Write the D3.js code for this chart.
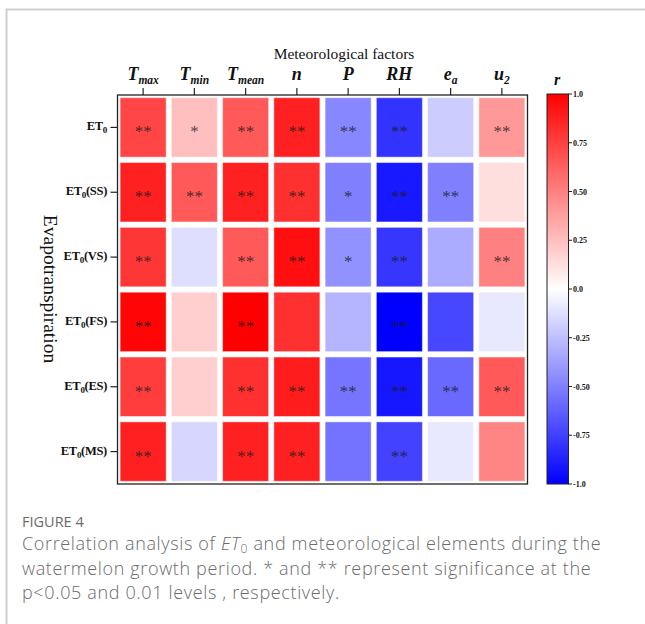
<!DOCTYPE html>
<html>
<head>
<meta charset="utf-8">
<script src="https://cdn.jsdelivr.net/npm/d3@7"></script>
<style>
  body { margin: 0; background: #fff; }
  svg { display: block; }
</style>
</head>
<body>
<div id="chart"></div>
<script>
// factors on the x axis, ET0 periods on the y axis
var factors = ["Tmax", "Tmin", "Tmean", "n", "P", "RH", "ea", "u2"];
var factorMain = ["T", "T", "T", "n", "P", "RH", "e", "u"];
var factorSub = ["max", "min", "mean", "", "", "", "a", "2"];
var periods = ["", "(SS)", "(VS)", "(FS)", "(ES)", "(MS)"];

// correlation r, one array per row
var rET0 = [0.73, 0.25, 0.65, 0.87, -0.47, -0.80, -0.20, 0.40];
var rSS  = [0.87, 0.65, 0.87, 0.81, -0.50, -0.90, -0.50, 0.13];
var rVS  = [0.79, -0.13, 0.65, 0.94, -0.43, -0.79, -0.33, 0.50];
var rFS  = [0.98, 0.19, 1.00, 0.81, -0.29, -1.00, -0.72, -0.09];
var rES  = [0.76, 0.19, 0.81, 0.89, -0.54, -0.91, -0.59, 0.65];
var rMS  = [0.87, -0.16, 0.87, 0.87, -0.55, -0.74, -0.09, 0.48];

// significance marks
var sigET0 = ["**", "*", "**", "**", "**", "**", "", "**"];
var sigSS  = ["**", "**", "**", "**", "*", "**", "**", ""];
var sigVS  = ["**", "", "**", "**", "*", "**", "", "**"];
var sigFS  = ["**", "", "**", "", "", "**", "", ""];
var sigES  = ["**", "", "**", "**", "**", "**", "**", "**"];
var sigMS  = ["**", "", "**", "**", "", "**", "", ""];

var colorTicks = [1.0, 0.75, 0.5, 0.25, 0.0, -0.25, -0.5, -0.75, -1.0];
var colorTickLabels = ["1.0", "0.75", "0.50", "0.25", "0.0", "-0.25", "-0.50", "-0.75", "-1.0"];

var rValues = [rET0, rSS, rVS, rFS, rES, rMS];
var sigValues = [sigET0, sigSS, sigVS, sigFS, sigES, sigMS];

var cells = [];
periods.forEach(function(p, i) {
  factors.forEach(function(f, j) {
    cells.push({row: p, col: f, r: rValues[i][j], sig: sigValues[i][j]});
  });
});

var W = 645, H = 624;
var serif = "'Liberation Serif', 'Times New Roman', serif";

var svg = d3.select("#chart").append("svg")
    .attr("width", W)
    .attr("height", H);

// page frame
svg.append("path")
    .attr("d", "M6.5,624 V9.5 H645")
    .attr("fill", "none")
    .attr("stroke", "#cfcfcf")
    .attr("stroke-width", 2);

var x = d3.scaleBand().domain(factors).range([117.5, 527.5]);
var y = d3.scaleBand().domain(periods).range([95, 484]);
var color = d3.scaleLinear().domain([-1, 0, 1]).range(["#0000ff", "#ffffff", "#ff0000"]);

var g = svg.append("g");

g.selectAll("rect.cell")
  .data(cells)
  .enter().append("rect")
    .attr("class", "cell")
    .attr("x", d => x(d.col) + 2.6)
    .attr("y", d => y(d.row) + 2.7)
    .attr("width", x.bandwidth() - 5.2)
    .attr("height", y.bandwidth() - 5.4)
    .attr("fill", d => color(d.r))
    .attr("stroke", "#ffffff")
    .attr("stroke-opacity", 0.45)
    .attr("stroke-width", 1);

g.selectAll("text.sig")
  .data(cells.filter(d => d.sig))
  .enter().append("text")
    .attr("class", "sig")
    .attr("x", d => x(d.col) + x.bandwidth() / 2)
    .attr("y", d => y(d.row) + y.bandwidth() / 2 + 10)
    .attr("text-anchor", "middle")
    .attr("font-family", serif)
    .attr("font-size", 17)
    .attr("fill", "#1a1a1a")
    .attr("fill-opacity", 0.8)
    .text(d => d.sig);

// plot frame
g.append("rect")
    .attr("x", 117.5)
    .attr("y", 95)
    .attr("width", 410)
    .attr("height", 389)
    .attr("fill", "none")
    .attr("stroke", "#222")
    .attr("stroke-width", 1.3);

// top axis ticks + labels
var topAxis = g.append("g");
topAxis.selectAll("line")
  .data(factors)
  .enter().append("line")
    .attr("x1", d => x(d) + x.bandwidth() / 2)
    .attr("x2", d => x(d) + x.bandwidth() / 2)
    .attr("y1", 88)
    .attr("y2", 95)
    .attr("stroke", "#222")
    .attr("stroke-width", 1.2);

var colLabels = topAxis.selectAll("text")
  .data(factors)
  .enter().append("text")
    .attr("x", (d, i) => x(d) + x.bandwidth() / 2)
    .attr("y", 80)
    .attr("text-anchor", "middle")
    .attr("font-family", serif)
    .attr("font-weight", "bold")
    .attr("font-style", "italic")
    .attr("fill", "#111");
colLabels.append("tspan")
    .attr("font-size", 18)
    .text((d, i) => factorMain[i]);
colLabels.append("tspan")
    .attr("font-size", 11.5)
    .attr("dy", 4)
    .text((d, i) => factorSub[i]);

svg.append("text")
    .attr("x", 344)
    .attr("y", 59)
    .attr("text-anchor", "middle")
    .attr("font-family", serif)
    .attr("font-size", 15.5)
    .attr("fill", "#111")
    .text("Meteorological factors");

// left axis ticks + labels
var leftAxis = g.append("g");
leftAxis.selectAll("line")
  .data(periods)
  .enter().append("line")
    .attr("x1", 110.5)
    .attr("x2", 117.5)
    .attr("y1", d => y(d) + y.bandwidth() / 2)
    .attr("y2", d => y(d) + y.bandwidth() / 2)
    .attr("stroke", "#222")
    .attr("stroke-width", 1.2);

var rowLabels = leftAxis.selectAll("text")
  .data(periods)
  .enter().append("text")
    .attr("x", 107)
    .attr("y", d => y(d) + y.bandwidth() / 2 + 3)
    .attr("text-anchor", "end")
    .attr("font-family", serif)
    .attr("font-weight", "bold")
    .attr("font-size", 12.5)
    .attr("letter-spacing", -0.3)
    .attr("fill", "#111");
rowLabels.append("tspan").text("ET");
rowLabels.append("tspan")
    .attr("font-size", 9)
    .attr("dy", 3)
    .text("0");
rowLabels.append("tspan")
    .attr("dy", -3)
    .text(d => d);

svg.append("text")
    .attr("transform", "translate(44,289) rotate(90)")
    .attr("text-anchor", "middle")
    .attr("font-family", serif)
    .attr("font-size", 19.5)
    .attr("fill", "#111")
    .text("Evapotranspiration");

// colour bar
var cy = d3.scaleLinear().domain([1, -1]).range([94, 484]);
var defs = svg.append("defs");
var grad = defs.append("linearGradient")
    .attr("id", "rgrad")
    .attr("x1", 0).attr("x2", 0).attr("y1", 0).attr("y2", 1);
d3.range(1, -1.01, -0.25).forEach(function(v) {
  grad.append("stop")
      .attr("offset", (1 - v) / 2)
      .attr("stop-color", color(v));
});

svg.append("rect")
    .attr("x", 547)
    .attr("y", cy(1))
    .attr("width", 21.5)
    .attr("height", cy(-1) - cy(1))
    .attr("fill", "url(#rgrad)")
    .attr("stroke", "#222")
    .attr("stroke-width", 1);

var cbAxis = svg.append("g");
cbAxis.selectAll("line")
  .data(colorTicks)
  .enter().append("line")
    .attr("x1", 568.5)
    .attr("x2", 572)
    .attr("y1", d => cy(d))
    .attr("y2", d => cy(d))
    .attr("stroke", "#222");
cbAxis.selectAll("text")
  .data(colorTicks)
  .enter().append("text")
    .attr("x", 573)
    .attr("y", d => cy(d) + 3)
    .attr("font-family", serif)
    .attr("font-weight", "bold")
    .attr("font-size", 8)
    .attr("fill", "#111")
    .text((d, i) => colorTickLabels[i]);

svg.append("text")
    .attr("x", 557)
    .attr("y", 85)
    .attr("text-anchor", "middle")
    .attr("font-family", serif)
    .attr("font-weight", "bold")
    .attr("font-style", "italic")
    .attr("font-size", 16)
    .attr("fill", "#111")
    .text("r");

// caption
var sans = "'Open Sans', 'Noto Sans', sans-serif";
svg.append("text")
    .attr("x", 22)
    .attr("y", 527)
    .attr("font-family", sans)
    .attr("font-size", 14.5)
    .attr("fill", "#6b6b6b")
    .text("FIGURE 4");

var capSize = 18;
var capSpacing = 0.65;
var cap1 = svg.append("text")
    .attr("x", 22)
    .attr("y", 550)
    .attr("font-family", sans)
    .attr("font-size", capSize)
    .attr("letter-spacing", capSpacing)
    .attr("font-weight", 300)
    .attr("fill", "#6b6b6b");
cap1.append("tspan").text("Correlation analysis of ");
cap1.append("tspan").attr("font-style", "italic").text("ET");
cap1.append("tspan").attr("font-size", 12).attr("dy", 3).text("0");
cap1.append("tspan").attr("dy", -3).text(" and meteorological elements during the");

svg.append("text")
    .attr("x", 22)
    .attr("y", 575)
    .attr("font-family", sans)
    .attr("font-size", capSize)
    .attr("letter-spacing", capSpacing)
    .attr("font-weight", 300)
    .attr("fill", "#6b6b6b")
    .text("watermelon growth period. * and ** represent significance at the");

svg.append("text")
    .attr("x", 22)
    .attr("y", 599)
    .attr("font-family", sans)
    .attr("font-size", capSize)
    .attr("letter-spacing", capSpacing)
    .attr("font-weight", 300)
    .attr("fill", "#6b6b6b")
    .text("p<0.05 and 0.01 levels , respectively.");
</script>
</body>
</html>
